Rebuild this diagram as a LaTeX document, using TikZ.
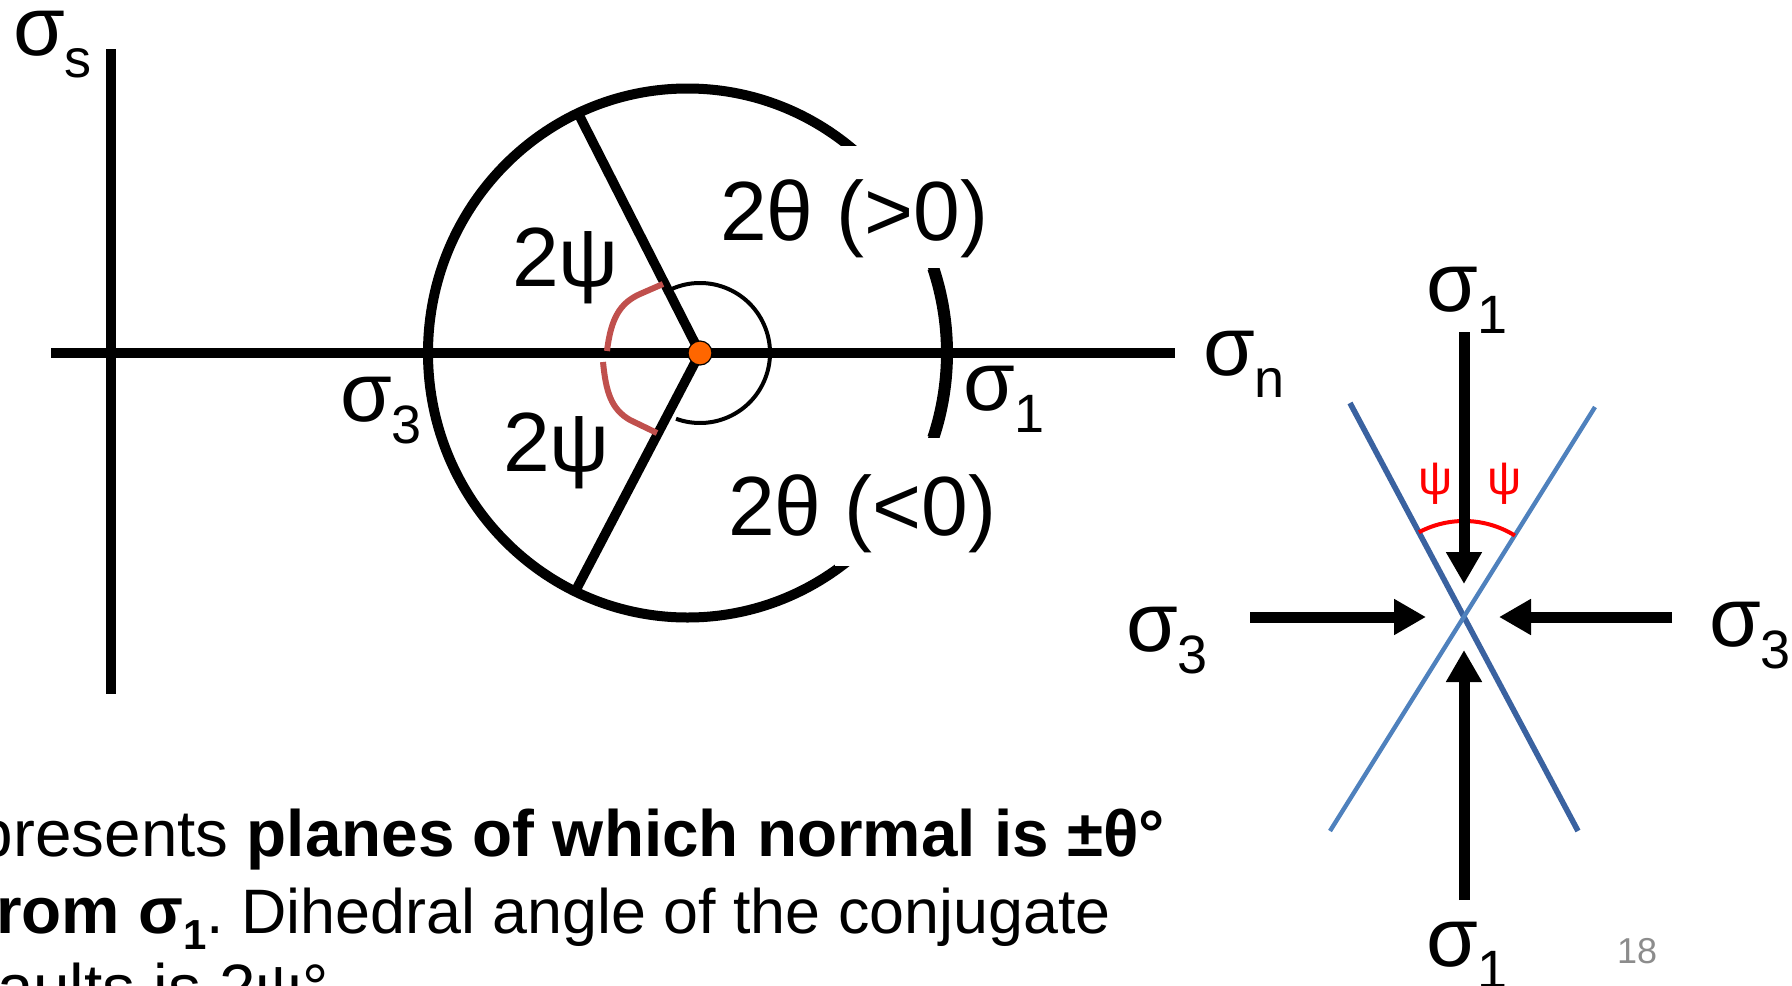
\documentclass[tikz,border=0pt]{standalone}
\usepackage{fontspec}
\setmainfont{Liberation Sans}
\usetikzlibrary{arrows.meta}
\definecolor{dotorange}{HTML}{FF6600}
\definecolor{psired}{HTML}{C0504D}
\definecolor{planeA}{RGB}{58,98,160}
\definecolor{planeB}{RGB}{79,129,189}
\definecolor{pagegray}{HTML}{8C8C8C}
\newcommand\sgsub[1]{σ\raisebox{-5.5pt}{\fontsize{13.5}{14}\selectfont #1}}
\begin{document}
\begin{tikzpicture}[x=0.25pt,y=-0.25pt,
  every node/.style={inner sep=0pt,outer sep=0pt},
  axisline/.style={line width=2.5pt},
  mohrline/.style={line width=2.5pt},
  biglabel/.style={font=\fontsize{21}{25}\selectfont,anchor=base west},
  textline/.style={font=\fontsize{16.4}{20}\selectfont,anchor=base west},
  stressarrow/.style={line width=2.75pt,-{Triangle[width=8.5pt,length=8pt]}},
  psilabel/.style={font=\fontsize{12}{14}\selectfont,text=red,anchor=center}]
\useasboundingbox (0,0) rectangle (1792,986);
\clip (0,0) rectangle (1792,986);

% ---------- Mohr diagram ----------
\coordinate (vtop) at (111,49);
\coordinate (vbot) at (111,694);
\coordinate (hleft) at (51,353);
\coordinate (hright) at (1175,353);
\draw[axisline] (vtop) -- (vbot);
\draw[axisline] (hleft) -- (hright);

\coordinate (mc) at (687.5,353);
\draw[mohrline] (mc) ellipse [x radius=259.5,y radius=264.5];
\draw[line width=3pt] (mc) ++(-18.7:259.5 and 264.5) arc[start angle=-18.7,end angle=18.7,x radius=259.5,y radius=264.5];
% white label boxes that break the circle
\fill[white] (835,146) rectangle (1010,268);
\fill[white] (835,438) rectangle (1010,566);

\coordinate (pole) at (700,353);
\coordinate (pu) at (580,117);
\coordinate (pd) at (577,588);
\draw[line width=2.4pt] (pole) -- (pu);
\draw[line width=2.4pt] (pole) -- (pd);

% small angle arc
\draw[line width=1pt] (pole) ++(-114:70) arc[start angle=-114,end angle=110,radius=70];

% red 2psi arc
\draw[psired,line width=1.5pt] (663,284) -- (640,294) .. controls (620,303) and (611,318) .. (607,351);
\draw[psired,line width=1.5pt] (603,362) .. controls (606,392) and (611,409) .. (630,420) -- (657,433);

\node[circle,fill=dotorange,draw=black,line width=0.3pt,minimum size=6pt] (dot) at (pole) {};

% labels
\node[biglabel] (ls) at (13,55) {\sgsub{s}};
\node[biglabel] (ln) at (1203,375) {\sgsub{n}};
\node[biglabel] (l1) at (963,410) {\sgsub{1}};
\node[biglabel] (l3) at (340,421) {\sgsub{3}};
\node[biglabel] (tpos) at (720,240) {2θ (>0)};
\node[biglabel] (tneg) at (728,535) {2θ (<0)};
\node[biglabel] (pup) at (512,286) {2ψ};
\node[biglabel] (pdn) at (503,471) {2ψ};

% ---------- conjugate faults ----------
\coordinate (c) at (1464,617);
\coordinate (aU) at (1350,403);
\coordinate (aD) at (1578,831);
\coordinate (bU) at (1595,407);
\coordinate (bD) at (1330,831);
\draw[planeA,line width=1.4pt] (aU) -- (aD);
\draw[planeB,line width=1.1pt] (bU) -- (bD);
\draw[red,line width=1pt] (c) ++(-118:96) arc[start angle=-118,end angle=-58,radius=96];
\node[psilabel] (psiL) at (1436,484) {ψ};
\node[psilabel] (psiR) at (1505,484) {ψ};

\coordinate (s1top) at (1464,332);
\coordinate (s1topTip) at (1464,584);
\coordinate (s1bot) at (1464,900);
\coordinate (s1botTip) at (1464,650);
\coordinate (s3left) at (1250,617);
\coordinate (s3leftTip) at (1426,617);
\coordinate (s3right) at (1672,617);
\coordinate (s3rightTip) at (1499,617);
\draw[stressarrow] (s1top) -- (s1topTip);
\draw[stressarrow] (s1bot) -- (s1botTip);
\draw[stressarrow] (s3left) -- (s3leftTip);
\draw[stressarrow] (s3right) -- (s3rightTip);

\node[biglabel] (r1t) at (1426,311) {\sgsub{1}};
\node[biglabel] (r1b) at (1426,966) {\sgsub{1}};
\node[biglabel] (r3l) at (1126,651) {\sgsub{3}};
\node[biglabel] (r3r) at (1709,646) {\sgsub{3}};

\node[anchor=base west,font=\fontsize{9}{10}\selectfont,text=pagegray] (pg) at (1617,963) {18};

% ---------- text ----------
\node[textline] (t1) at (-23,856) {presents \textbf{planes of which normal is ±θ°}};
\node[textline] (t2) at (-4,933) {\textbf{rom σ\raisebox{-4pt}{\fontsize{10.5}{11}\selectfont 1}}\fontsize{15.7}{20}\selectfont.\ Dihedral angle of the conjugate};
\node[textline] (t3) at (-3,1010) {aults is 2ψ°};
\end{tikzpicture}
\end{document}
